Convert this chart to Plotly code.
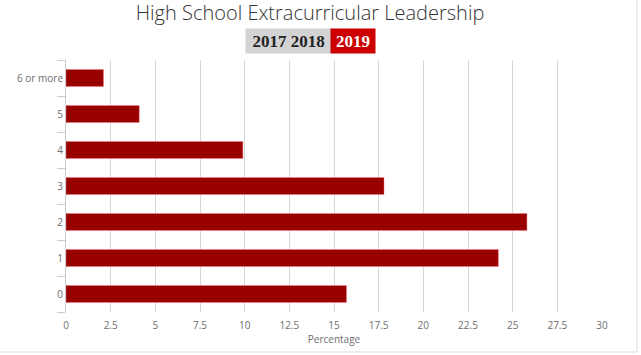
import plotly.graph_objects as go

categories = ["0", "1", "2", "3", "4", "5", "6 or more"]
values_2019 = [15.7, 24.2, 25.8, 17.8, 9.9, 4.1, 2.1]
x_ticks = [0, 2.5, 5, 7.5, 10, 12.5, 15, 17.5, 20, 22.5, 25, 27.5, 30]
x_tick_labels = ["0", "2.5", "5", "7.5", "10", "12.5", "15", "17.5", "20", "22.5", "25", "27.5", "30"]
years = ["2017", "2018", "2019"]

W, H = 641, 355
L, R, T, B = 66, 39, 60, 43
pw, ph = W - L - R, H - T - B

def px_x(p):
    return (p - L) / pw

def px_y(p):
    return (H - B - p) / ph

fig = go.Figure()
fig.add_trace(go.Bar(
    x=values_2019, y=categories, orientation="h",
    marker=dict(color="#990000", line=dict(color="rgba(255,130,130,0.7)", width=0.6)),
    width=0.47, showlegend=False,
))

grey = "#6e6e6e"
fig.update_layout(
    width=W, height=H,
    margin=dict(l=L, r=R, t=T, b=B),
    paper_bgcolor="white", plot_bgcolor="white",
    font=dict(family="Open Sans, sans-serif", size=10, color=grey),
    title=dict(text="High School Extracurricular Leadership",
               x=310 / W, xanchor="center", y=1 - 13 / H, yanchor="middle",
               font=dict(family="Open Sans, sans-serif", size=20, color="#333333", weight=300)),
    xaxis=dict(range=[0, 30], tickvals=x_ticks, ticktext=x_tick_labels,
               showgrid=True, gridcolor="#d6d6d6", gridwidth=1,
               zeroline=False, showline=False, ticks="", ticklabelstandoff=6,
               tickfont=dict(size=10, color=grey),
               title=dict(text="Percentage", font=dict(size=10, color=grey), standoff=4)),
    yaxis=dict(categoryorder="array", categoryarray=categories, range=[-0.5, 6.5],
               showgrid=False, zeroline=False, showline=True, linecolor="#cccccc", linewidth=1,
               ticks="outside", tickson="boundaries", ticklen=8, tickcolor="#cccccc",
               tickfont=dict(size=10, color=grey)),
    bargap=0.5,
)

# year selector rendered as labelled boxes
btn_font = dict(family="Liberation Serif, DejaVu Serif, serif", size=17, color="#222222", weight="bold")
fig.add_annotation(text=" ".join(years[:2]), xref="paper", yref="paper",
                   x=px_x(245), xanchor="left", y=px_y(41), yanchor="middle",
                   showarrow=False, bgcolor="#d3d3d3", width=85, height=24, borderpad=0,
                   align="center", font=btn_font)
fig.add_annotation(text=years[2], xref="paper", yref="paper",
                   x=px_x(330), xanchor="left", y=px_y(41), yanchor="middle",
                   showarrow=False, bgcolor="#cc0000", width=44, height=24, borderpad=0,
                   align="center", font=dict(btn_font, color="white"))

# outer frame lines (right and bottom)
fig.add_shape(type="line", xref="paper", yref="paper",
              x0=px_x(637), x1=px_x(637), y0=px_y(352), y1=px_y(0),
              line=dict(color="#dddddd", width=1))
fig.add_shape(type="line", xref="paper", yref="paper",
              x0=px_x(0), x1=px_x(637), y0=px_y(352), y1=px_y(352),
              line=dict(color="#dddddd", width=1))

fig.write_html("out.html", config={"displayModeBar": False},
               post_script="document.body.style.margin='0px';document.body.style.overflow='hidden';")
